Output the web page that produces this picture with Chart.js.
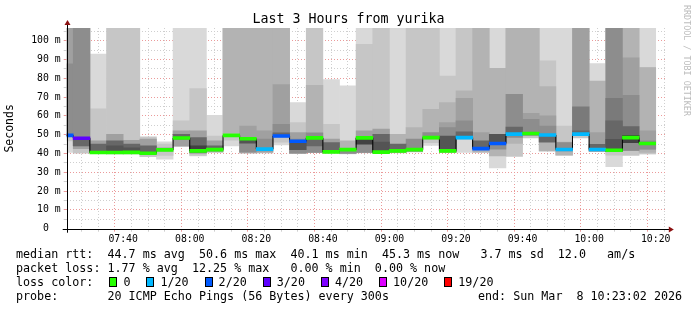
<!DOCTYPE html>
<html><head><meta charset="utf-8">
<script src="https://cdn.jsdelivr.net/npm/chart.js@4.4.1/dist/chart.umd.min.js"></script>
<style>
html,body{margin:0;padding:0;background:#fff;}
#wrap{position:relative;width:697px;height:310px;overflow:hidden;font-family:"DejaVu Sans Mono",monospace;color:#000;background:#fff;}
canvas{position:absolute;left:0;top:0;}
.t{position:absolute;white-space:pre;font-size:11.7px;line-height:14px;}
.box{display:inline-block;width:6px;height:8px;border:1px solid #000;vertical-align:-1px;margin-left:16px;margin-right:6px;}
</style></head><body>
<div id="wrap">
<canvas id="c" width="697" height="310"></canvas>
<div class="t" style="left:0;width:697px;text-align:center;top:11px;font-size:13.3px;line-height:16px;">Last 3 Hours from yurika</div>
<div class="t" style="left:682px;top:5px;font-size:8.4px;line-height:10px;color:#bcbcbc;writing-mode:vertical-rl;">RRDTOOL / TOBI OETIKER</div>
<div class="t" style="left:16px;top:247px;">median rtt:  44.7 ms avg  50.6 ms max  40.1 ms min  45.3 ms now   3.7 ms sd  12.0   am/s</div>
<div class="t" style="left:16px;top:261px;">packet loss: 1.77 % avg  12.25 % max   0.00 % min  0.00 % now</div>
<div class="t" id="lossRow" style="left:16px;top:275px;">loss color:</div>
<div class="t" style="left:16px;top:289px;">probe:       20 ICMP Echo Pings (56 Bytes) every 300s</div>
<div class="t" style="left:478px;top:289px;">end: Sun Mar  8 10:23:02 2026</div>
</div>
<script>
// ---- data ----
const windowStart = '07:23:02';
const windowEnd   = '10:23:02';
const stepMinutes = 5;            // 300 s per round of pings
const H = 120;                    // pings above the top of the graph

const intervalStart = ['07:20','07:25','07:30','07:35','07:40','07:45',
  '07:50','07:55','08:00','08:05','08:10','08:15',
  '08:20','08:25','08:30','08:35','08:40','08:45',
  '08:50','08:55','09:00','09:05','09:10','09:15',
  '09:20','09:25','09:30','09:35','09:40','09:45',
  '09:50','09:55','10:00','10:05','10:10','10:15'];

// median RTT (ms)
const medianRtt = [49.6,48.1,40.5,40.5,40.6,40.1,
  41.9,48.2,41.4,42.0,49.6,47.8,
  42.3,49.3,46.5,48.3,40.8,42.0,
  48.3,40.7,41.4,42.0,48.4,41.4,
  48.4,42.6,45.3,50.3,50.6,49.8,
  42.1,50.3,42.1,41.7,48.4,45.3];

// lost pings out of 20
const lossCount = [2,3,0,0,0,0,
  0,0,0,0,0,0,
  1,2,2,0,0,0,
  0,0,0,0,0,0,
  1,2,2,1,0,1,
  1,1,1,0,0,0];

// smoke bands [low, high] in ms, lightest to darkest
const smoke1 = [
  [40.5,H], null, [40,92.9], null, null, null,
  [37,46.2], [43.7,H], [38.7,H], [40.5,60.3], [44,H], null,
  null, [44.5,H], [40.1,67], null, [40.2,79.3], [39.8,75.9],
  [40.3,H], null, [40.3,H], null, [44.3,H], [40.5,H],
  [40.5,H], null, [32.3,H], null, null, [41.4,H],
  [39,H], null, [41,87.8], [33,H], null, [39.8,H]];
const smoke2 = [
  [46.7,H], [40.2,H], [40.3,63.7], [39.8,H], [39.8,H], [38.3,48.8],
  [38.9,45], [43.8,57.3], [39,74.5], [40.6,49.3], [47,H], null,
  null, [46,H], [40.2,56.4], [40.4,H], [40.3,55.5], null,
  [40.4,98], [40,H], null, [40.8,H], [45.8,H], [40.6,81.2],
  [47.6,H], null, null, [38.4,H], [48.3,H], [41.4,89.2],
  [39.1,54.6], [48.2,H], null, [39.1,H], [38.9,H], [39.8,85.6]];
const smoke3 = [
  null, null, null, null, null, null,
  null, null, null, null, [50.8,H], [40.2,H],
  [40.3,H], [48.6,H], null, [40.5,76.2], null, [40,46.7],
  null, null, [40.5,50.2], [41,53.7], [47.6,63.5], [40.7,67],
  [47.7,73.3], [40.5,H], [38.7,85.2], [45.3,H], [49.5,H], [41.4,75.6],
  [39.2,46], null, [41,78.5], null, [41.6,H], [40.5,85.6]];
const smoke4 = [
  [49,H], [42.5,H], [40.4,46.7], [40.3,50.2], [40.2,47], [39.5,47.6],
  [41.2,43], [44,52], [40,52], [41,46.7], null, [40.4,54.6],
  [41,52], [48.8,76.6], [40.2,51.1], null, [40.5,47.6], null,
  [40.5,52], [40.2,52.9], null, null, null, [40.8,56.4],
  [47.8,69.3], [42.2,51.1], null, null, [49.6,61.3], [46,60],
  null, [49.5,H], [41.2,51.1], null, [41.6,90.9], [42.3,52]];
const smoke5 = [
  [49.5,87.7], [44,H], null, null, null, null,
  null, null, null, null, null, [41,46],
  [42,47.6], [48.9,55.5], [40.2,47.6], [40.5,51], null, [40,42],
  [40.5,48.3], null, null, [41.2,47.6], [47.8,51.1], [40.9,53.7],
  [47.9,57.3], null, [42.3,46.7], [48.5,71.5], [49.7,58.1], [46,54.6],
  [41.3,45.8], null, null, [41,H], [41.6,70.9], [42.3,46.7]];
const smoke6 = [
  null, null, null, null, null, null,
  null, null, null, null, null, null,
  null, null, null, null, null, null,
  null, null, null, null, null, null,
  null, null, null, null, null, null,
  null, [49.6,64.8], null, [41,69.3], null, null];
const smoke7 = [
  null, [44,48.5], [40.5,45], [40.5,46.7], [40.5,45], [40,44],
  null, [47.6,50.2], [40.5,48.4], [41.5,44], null, null,
  null, [49,51], null, [44,48], [40.7,45.8], null,
  null, [40.5,50.2], [40.8,45], null, null, null,
  [48,51.5], [42.4,46.7], null, [49.5,54], null, [46.1,49.8],
  null, [50,52], [41.5,44.9], [41,57.3], [45.8,54.3], null];
const smoke8 = [
  null, null, null, [40.5,44], [40.5,43], null,
  null, null, null, null, null, [45.5,47.8],
  null, null, [42,46.5], null, null, null,
  null, [40.6,46], null, null, null, [41,49.3],
  null, null, [45.5,50.2], null, null, null,
  null, null, null, [41.2,47.5], null, null];
const smoke9 = [
  null, null, null, null, null, null,
  null, null, [41.5,44], null, null, null,
  null, null, null, null, null, null,
  [45,48.3], null, null, null, null, null,
  null, null, null, null, null, null,
  null, null, null, null, [45.8,49.7], null];

const lossLabels = ['0','1/20','2/20','3/20','4/20','10/20','19/20'];
const lossThresholds = [0,1,2,3,4,10,19];
const lossColors = ['#26ff00','#00b8ff','#0059ff','#5e00ff','#7e00ff','#dd00ff','#ff0000'];

const xTickLabels = ['07:40','08:00','08:20','08:40','09:00','09:20','09:40','10:00','10:20'];
const yTickLabels = ['0  ','10 m','20 m','30 m','40 m','50 m','60 m','70 m','80 m','90 m','100 m'];
const yTop = 106.7;

// ---- build ----
const toMin = s => { const p = s.split(':').map(Number); return p[0]*60 + p[1] + (p[2]||0)/60; };
const xMin = toMin(windowStart), xMax = toMin(windowEnd);
const centers = intervalStart.map(s => toMin(s) + stepMinutes/2);
const fmt = m => { const h = Math.floor(m/60 + 1e-9), mm = Math.round(m - h*60); return String(h).padStart(2,'0') + ':' + String(mm).padStart(2,'0'); };
const colorFor = c => { let k = 0; lossThresholds.forEach((t,i)=>{ if (c >= t) k = i; }); return lossColors[k]; };

// legend row
const row = document.getElementById('lossRow');
lossLabels.forEach((lab, i) => {
  const b = document.createElement('span'); b.className = 'box'; b.style.background = lossColors[i];
  row.appendChild(b);
  row.appendChild(document.createTextNode(lab));
});

const bands = [
  [smoke9,'#414141'], [smoke8,'#545454'], [smoke7,'#676767'], [smoke6,'#7a7a7a'],
  [smoke5,'#8d8d8d'], [smoke4,'#a0a0a0'], [smoke3,'#b3b3b3'], [smoke2,'#c6c6c6'], [smoke1,'#d9d9d9']
];
const datasets = [];
const halfBand = 0.8;
datasets.push({
  type:'bar', label:'median', order:0, grouped:false,
  data: medianRtt.map((m,i)=>({x:centers[i], y:[m-halfBand, m+halfBand]})),
  backgroundColor: lossCount.map(colorFor), borderWidth:0,
  barPercentage:1, categoryPercentage:1
});
datasets.push({
  type:'line', label:'median line', order:1,
  data: medianRtt.map((m,i)=>({x:centers[i], y:m})),
  stepped:'middle', borderColor:'#000', borderWidth:1, pointRadius:0, fill:false
});
bands.forEach(([arr,col], j) => {
  const d = [];
  arr.forEach((v,i)=>{ if (v) d.push({x:centers[i], y:v}); });
  datasets.push({type:'bar', label:'smoke'+j, order:2+j, grouped:false, data:d,
    backgroundColor:col, borderWidth:0, barPercentage:1, categoryPercentage:1});
});

const MINOR = '#cfcfcf', MAJOR = '#eb9a9a';
const tickVal = c => (c && c.tick) ? c.tick.value : null;
const rrdAxes = {
  id:'rrdAxes',
  afterDraw(chart){
    const {ctx, chartArea:a} = chart;
    const x0 = Math.round(a.left) + 0.5, y0 = Math.round(a.bottom) + 0.5;
    ctx.save();
    ctx.strokeStyle = '#000'; ctx.lineWidth = 1;
    ctx.beginPath();
    ctx.moveTo(x0, a.top - 4); ctx.lineTo(x0, a.bottom + 4);
    ctx.moveTo(a.left - 4, y0); ctx.lineTo(a.right + 5, y0);
    ctx.stroke();
    ctx.fillStyle = '#8b1010';
    ctx.beginPath();
    ctx.moveTo(x0, a.top - 8); ctx.lineTo(x0 - 3, a.top - 3); ctx.lineTo(x0 + 3, a.top - 3); ctx.closePath(); ctx.fill();
    ctx.beginPath();
    ctx.moveTo(a.right + 8, y0); ctx.lineTo(a.right + 3, y0 - 3); ctx.lineTo(a.right + 3, y0 + 3); ctx.closePath(); ctx.fill();
    ctx.restore();
  }
};

Chart.defaults.font.family = '"DejaVu Sans Mono", monospace';
new Chart(document.getElementById('c'), {
  type:'bar',
  data:{datasets},
  plugins:[rrdAxes],
  options:{
    responsive:false, animation:false, devicePixelRatio:1,
    layout:{padding:{top:28, right:31.2, left:0, bottom:0}},
    plugins:{legend:{display:false}, tooltip:{enabled:false}, title:{display:false}},
    scales:{
      x:{
        type:'linear', min:xMin, max:xMax, offset:false, z:1,
        afterBuildTicks: s => { const t=[]; for (let v=Math.ceil(xMin/stepMinutes)*stepMinutes; v<=xMax; v+=stepMinutes) t.push({value:v}); s.ticks=t; },
        afterFit: s => { s.height = 310 - 228.7; },
        ticks:{autoSkip:false, maxRotation:0, minRotation:0, padding:2, color:'#000', font:{size:9.8},
          callback: v => { const l = fmt(v); return xTickLabels.includes(l) ? l : ''; }},
        grid:{drawTicks:true, tickLength:3,
          color: c => { const v = tickVal(c); return (v !== null && xTickLabels.includes(fmt(v))) ? MAJOR : MINOR; }},
        border:{display:false, dash:[1,2]}
      },
      y:{
        type:'linear', min:0, max:yTop, z:1,
        afterBuildTicks: s => { const t=[]; for (let v=0; v<=yTop; v+=5) t.push({value:v}); s.ticks=t; },
        afterFit: s => { s.width = 66.7; },
        ticks:{autoSkip:false, padding:3, color:'#000', font:{size:9.8},
          callback: v => (v % 10 === 0 ? yTickLabels[v/10] : '')},
        grid:{drawTicks:true, tickLength:3,
          color: c => { const v = tickVal(c); if (v === null) return MINOR; return v === 0 ? 'rgba(0,0,0,0)' : (v % 10 === 0 ? MAJOR : MINOR); }},
        border:{display:false, dash:[1,2]},
        title:{display:true, text:'Seconds', color:'#000', font:{size:11.5}, padding:{top:3, bottom:0}}
      }
    }
  }
});
</script>
</body></html>
